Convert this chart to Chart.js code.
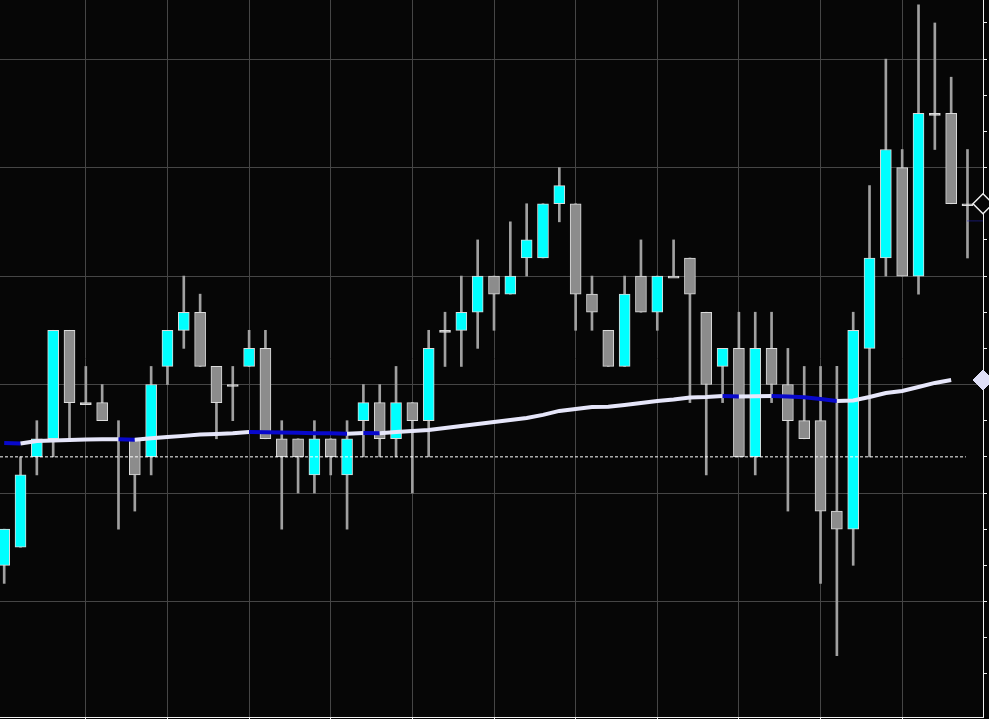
<!DOCTYPE html>
<html>
<head>
<meta charset="utf-8">
<script src="https://cdn.jsdelivr.net/npm/chart.js@4.4.1/dist/chart.umd.min.js"></script>
<style>
html,body{margin:0;padding:0;background:#060606;overflow:hidden;}
canvas{display:block;}
</style>
</head>
<body>
<canvas id="grafico" width="989" height="719"></canvas>
<script>

// ==============================
// DATOS
// ==============================

const open  = [8,9,14,15,21,17,17,15,15,14,19,21,22,19,18,19,20,15,15,13,15,13,16,17,15,17,16,21,21,22,24,23,25,25,28,28,23,21,19,24,22,24,25,22,19,20,14,20,18,16,16,11,10,20,25,30,24,33,33,28];
const close = [10,13,15,21,17,17,16,15,13,18,21,22,19,17,18,20,15,14,14,15,14,15,17,15,17,16,20,21,22,24,23,24,26,28,29,23,22,19,23,22,24,24,23,18,20,14,20,18,16,15,11,10,21,25,31,24,33,33,28,28];
const high  = [10,14,16,21,21,19,18,16,15,19,21,24,23,19,19,21,21,16,15,16,15,16,18,18,19,17,21,22,24,26,24,27,28,28,30,28,24,21,24,26,24,26,25,22,20,22,22,22,20,19,19,19,22,29,36,31,39,38,35,31];
const low   = [7,9,13,14,15,17,16,10,11,13,18,20,19,15,16,19,15,10,12,12,13,10,14,14,14,12,14,19,19,20,21,23,24,25,27,21,21,19,19,22,21,24,17,13,17,14,13,17,11,15,7,3,8,14,24,24,23,31,28,25];

// media movil
const media = [14.77,14.74,14.88,14.90,14.93,14.96,14.97,14.98,14.95,15.03,
15.10,15.16,15.24,15.27,15.31,15.38,15.36,15.35,15.33,15.31,
15.30,15.28,15.32,15.30,15.38,15.43,15.49,15.60,15.71,15.82,
15.93,16.04,16.15,16.32,16.54,16.65,16.76,16.77,16.87,16.98,
17.09,17.17,17.28,17.31,17.37,17.34,17.35,17.37,17.34,17.29,
17.20,17.09,17.12,17.31,17.53,17.64,17.86,18.09,18.25];

// nivel de referencia (linea punteada) y nivel azul
const nivelRef = 14;
const nivelRefFin = 58.9;
const nivelAzul = 27.05;

// rango de ejes
const xMin = -0.257, xMax = 59.95;
const yMin = -0.39, yMax = 39.27;

// ==============================
// COLORES
// ==============================

const CIAN = "#00ffff";
const GRIS = "#8c8c8c";
const BORDE = "#dcdcdc";
const MECHA = "#a0a0a0";
const BLANCO = "#e6e6fa";
const AZUL = "#0808cc";
const REJILLA = "#454545";

const esMult = (v, m) => Math.abs(v / m - Math.round(v / m)) < 1e-6;

// ==============================
// GRAFICO
// ==============================

const ctx = document.getElementById("grafico").getContext("2d");

let grafico = new Chart(ctx, {

type: "bar",

data: {
datasets: [

// mechas
{
type: "bar",
data: low.map((l, i) => ({ x: i, y: [l, high[i]] })),
backgroundColor: MECHA,
borderWidth: 0,
barThickness: 2,
grouped: false,
order: 6
},

// cuerpos
{
type: "bar",
data: open.map((o, i) => ({ x: i, y: [o, close[i]] })),
backgroundColor: c => close[c.dataIndex] > open[c.dataIndex] ? CIAN : (close[c.dataIndex] < open[c.dataIndex] ? GRIS : BORDE),
borderColor: BORDE,
borderWidth: 1,
borderSkipped: false,
barThickness: 11,
minBarLength: 2,
grouped: false,
order: 5
},

// linea punteada
{
type: "line",
data: [{ x: xMin, y: nivelRef }, { x: nivelRefFin, y: nivelRef }],
borderColor: "#ffffff",
borderWidth: 1,
borderDash: [3, 2],
pointRadius: 0,
order: 4
},

// nivel azul
{
type: "line",
data: [{ x: 59, y: nivelAzul }, { x: xMax, y: nivelAzul }],
borderColor: "#2a2ad0",
borderWidth: 1,
borderDash: [1, 1],
pointRadius: 0,
order: 4
},

// media movil
{
type: "line",
data: media.map((v, i) => ({ x: i, y: v })),
borderColor: BLANCO,
borderWidth: 4,
pointRadius: 0,
tension: 0,
segment: {
borderColor: c => c.p1.parsed.y < c.p0.parsed.y ? AZUL : BLANCO
},
order: 3
},

// marcador ultimo precio
{
type: "line",
data: [{ x: xMax, y: close[close.length - 1] }],
showLine: false,
pointStyle: "rectRot",
pointRadius: 10,
pointBackgroundColor: "#060606",
pointBorderColor: "#f0f0f0",
pointBorderWidth: 1.5,
clip: false,
order: 1
},

// marcador media
{
type: "line",
data: [{ x: xMax, y: media[media.length - 1] }],
showLine: false,
pointStyle: "rectRot",
pointRadius: 10,
pointBackgroundColor: "#e0e0f8",
pointBorderColor: "#e0e0f8",
pointBorderWidth: 1,
clip: false,
order: 1
}

]
},

options: {
responsive: false,
animation: false,
devicePixelRatio: 1,
layout: { padding: { left: 0, top: 0, right: 2, bottom: 0 }, autoPadding: false },

plugins: {
legend: { display: false },
tooltip: { enabled: false }
},

scales: {
x: {
type: "linear",
position: "bottom",
offset: false,
min: xMin,
max: xMax,
ticks: { display: false, stepSize: 5 },
grid: {
offset: false,
color: c => c.tick && esMult(c.tick.value, 5) ? REJILLA : "rgba(0,0,0,0)",
tickColor: c => c.tick && esMult(c.tick.value, 5) ? "#f0f0f0" : "rgba(0,0,0,0)",
drawTicks: true,
tickLength: 2
},
border: { color: "#f0f0f0", width: 1 }
},
y: {
type: "linear",
position: "right",
min: yMin,
max: yMax,
ticks: { display: false, stepSize: 2 },
grid: {
color: c => c.tick && esMult(c.tick.value, 6) ? REJILLA : "rgba(0,0,0,0)",
tickColor: c => c.tick && esMult(c.tick.value, 2) ? "#f0f0f0" : "rgba(0,0,0,0)",
drawTicks: true,
tickLength: 4
},
border: { color: "#f0f0f0", width: 1 }
}
}
}

});

</script>
</body>
</html>
